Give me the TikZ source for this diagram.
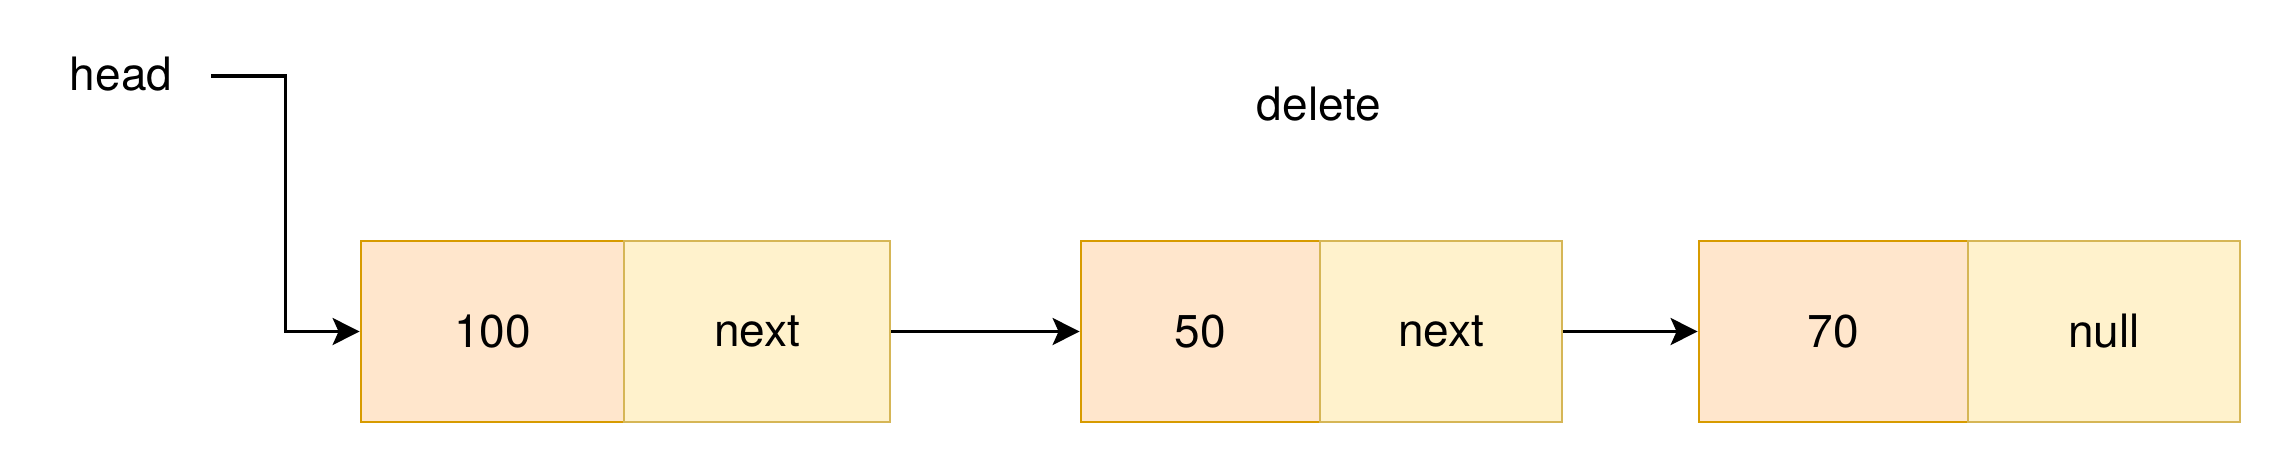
\documentclass[tikz,border=0pt]{standalone}
\usepackage{fontspec}
\setmainfont{TeX Gyre Heros}
\usetikzlibrary{arrows.meta}
\definecolor{valfill}{HTML}{FFE6CC}
\definecolor{valdraw}{HTML}{D79B00}
\definecolor{nxtfill}{HTML}{FFF2CC}
\definecolor{nxtdraw}{HTML}{D6B656}
\begin{document}
\begin{tikzpicture}[x=1pt,y=-1pt,
  every node/.style={font=\fontsize{46}{55}\selectfont},
  valcell/.style={draw=valdraw,fill=valfill,line width=2.8pt,minimum height=181pt,inner sep=0pt},
  nxtcell/.style={draw=nxtdraw,fill=nxtfill,line width=2.8pt,minimum height=181pt,inner sep=0pt},
  arr/.style={line width=3.2pt,-{Stealth[length=27pt,width=27pt,inset=6pt]}},
  lbl/.style={inner sep=0pt,anchor=base}]
\useasboundingbox (0,0) rectangle (2271,453);
\node[lbl,inner xsep=39pt] (head) at (121,90) {head};
\node[lbl] (del) at (1319,120) {delete};
\node[valcell,minimum width=263pt] (v1) at (492.5,331.5) {100};
\node[nxtcell,minimum width=266pt] (n1) at (757,331.5) {next};
\node[valcell,minimum width=239pt] (v2) at (1200.5,331.5) {50};
\node[nxtcell,minimum width=242pt] (n2) at (1441,331.5) {next};
\node[valcell,minimum width=269pt] (v3) at (1833.5,331.5) {70};
\node[nxtcell,minimum width=272pt] (n3) at (2104,331.5) {null};
\draw[arr] ([yshift=-2.5pt]head.east) -- ++(74,0) |- (v1.west);
\draw[arr] (n1.east) -- (v2.west);
\draw[arr] (n2.east) -- (v3.west);
\end{tikzpicture}
\end{document}
